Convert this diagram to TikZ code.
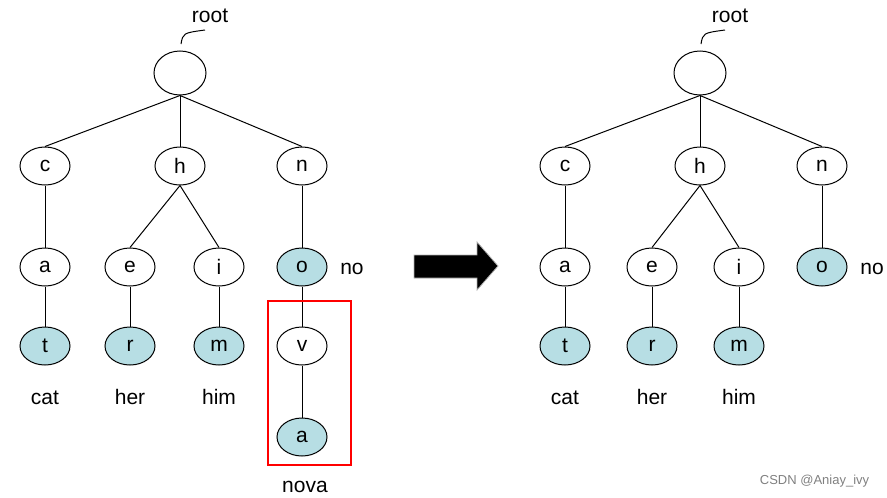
\documentclass[tikz,border=0pt]{standalone}
\usepackage{fontspec}
\setmainfont{Liberation Sans}
\usetikzlibrary{shapes.geometric}
\definecolor{leafblue}{RGB}{183,222,228}

\begin{document}
\begin{tikzpicture}[x=1pt, y=-1pt, line width=1pt,
  every node/.style = {font=\fontsize{21}{25}\selectfont},
  letter/.style = {ellipse, draw, line width=1pt, minimum width=50pt, minimum height=38pt, inner sep=0pt},
  endword/.style = {letter, fill=leafblue},
  topnode/.style = {letter, minimum width=52pt, minimum height=44pt},
  word/.style = {anchor=base}]
\useasboundingbox (0,0) rectangle (887,498);
% left trie
\node[topnode](root) at (180,73){};
\node(rootlbl) at (210,16){root};
\coordinate(rootend) at (181,44);
\node[letter](c) at (45,166){c};
\node[letter](h) at (180,166){h};
\node[letter](n) at (302,166){n};
\node[letter](a) at (45,267){a};
\node[letter](e) at (130,267){e};
\node[letter](i) at (219,267){i};
\node[endword](o) at (302,267){o};
\node[endword](t) at (45,346){t};
\node[endword](r) at (130,346){r};
\node[endword](m) at (219,346){m};
\node[letter](v) at (302,346){v};
\node[endword](a2) at (302,437){a};
\node[word](cat) at (45,404){cat};
\node[word](her) at (130,404){her};
\node[word](him) at (219,404){him};
\node[word](no) at (352,274){no};
\node[word](nova) at (305,492){nova};
\draw (root.south) -- (c.north);
\draw (root.south) -- (h.north);
\draw (root.south) -- (n.north);
\draw (c.south) -- (a.north);
\draw (a.south) -- (t.north);
\draw (h.south) -- (e.north);
\draw (h.south) -- (i.north);
\draw (e.south) -- (r.north);
\draw (i.south) -- (m.north);
\draw (n.south) -- (o.north);
\draw (o.south) -- (v.north);
\draw (v.south) -- (a2.north);
\draw (rootend) .. controls (183,33) .. (205,30);
\draw[red, line width=2.8pt] (268,301) rectangle (351,465);
% arrow
\draw[fill=black, draw=gray!60, line width=0.8pt] (414,255) -- (477,255) -- (477,242) -- (498,266) -- (477,290) -- (477,278) -- (414,278) -- cycle;
% right trie
\node[topnode](Rroot) at (700,73){};
\node(Rrootlbl) at (730,16){root};
\coordinate(Rrootend) at (701,44);
\node[letter](Rc) at (565,166){c};
\node[letter](Rh) at (700,166){h};
\node[letter](Rn) at (822,166){n};
\node[letter](Ra) at (565,267){a};
\node[letter](Re) at (652,267){e};
\node[letter](Ri) at (739,267){i};
\node[endword](Ro) at (822,267){o};
\node[endword](Rt) at (565,346){t};
\node[endword](Rr) at (652,346){r};
\node[endword](Rm) at (739,346){m};
\node[word](Rcat) at (565,404){cat};
\node[word](Rher) at (652,404){her};
\node[word](Rhim) at (739,404){him};
\node[word](Rno) at (872,274){no};
\draw (Rroot.south) -- (Rc.north);
\draw (Rroot.south) -- (Rh.north);
\draw (Rroot.south) -- (Rn.north);
\draw (Rc.south) -- (Ra.north);
\draw (Ra.south) -- (Rt.north);
\draw (Rh.south) -- (Re.north);
\draw (Rh.south) -- (Ri.north);
\draw (Re.south) -- (Rr.north);
\draw (Ri.south) -- (Rm.north);
\draw (Rn.south) -- (Ro.north);
\draw (Rrootend) .. controls (703,33) .. (725,30);
\node[font=\fontsize{13}{15}\selectfont, text=gray, anchor=east](mark) at (873,481){CSDN @Aniay\_ivy};
\end{tikzpicture}
\end{document}
